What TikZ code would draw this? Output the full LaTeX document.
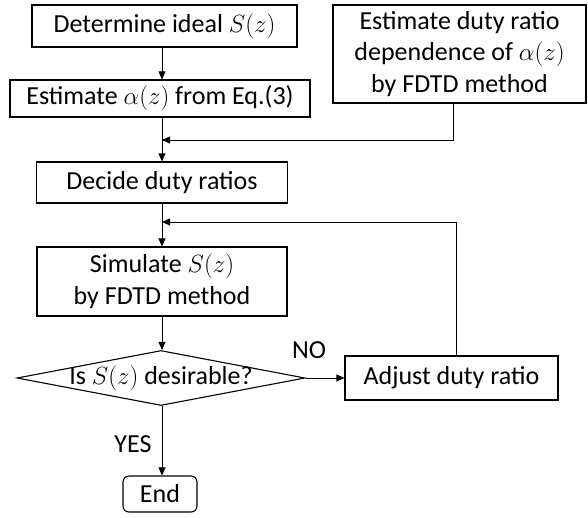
\documentclass[tikz,border=0pt]{standalone}
\usepackage{fontspec}
\setmainfont{Carlito}
\usetikzlibrary{shapes.geometric,arrows.meta}
\begin{document}
\begin{tikzpicture}[x=1pt,y=-1pt,
  every node/.style={font=\fontsize{26}{31.5}\selectfont},
  box/.style={draw,line width=1.1pt,rectangle,inner sep=0pt,align=center},
  decision/.style={draw,line width=1.1pt,diamond,aspect=5.2,inner sep=0pt},
  conn/.style={line width=0.8pt},
  arr/.style={conn,-{Triangle[length=8pt,width=7pt]}},
  lbl/.style={inner sep=0pt}]
\useasboundingbox (0,0) rectangle (588,517);
\node[box,minimum width=265pt,minimum height=42pt] (b1) at (164.5,26) {Determine ideal $S(z)$};
\node[box,minimum width=300pt,minimum height=37pt] (b2) at (160,98.5) {Estimate $\alpha(z)$ from Eq.(3)};
\node[box,minimum width=253pt,minimum height=98pt] (br) at (459.5,54) {Estimate duty ratio\\ dependence of $\alpha(z)$\\ by FDTD method};
\node[box,minimum width=251pt,minimum height=41pt] (b3) at (162,182.5) {Decide duty ratios};
\node[box,minimum width=250pt,minimum height=69pt] (b4) at (162,281.5) {Simulate $S(z)$\\ by FDTD method};
\node[decision,minimum width=288pt,minimum height=55pt] (d) at (161,378) {};
\node[lbl] (dt) at (161,378) {Is $S(z)$ desirable?};
\node[box,minimum width=213pt,minimum height=44pt] (adj) at (451.5,378) {Adjust duty ratio};
\node[box,rounded corners=6pt,minimum width=74pt,minimum height=36pt] (end) at (160,494) {End};
\node[lbl] (no) at (309,350) {NO};
\node[lbl] (yes) at (133,444) {YES};
\coordinate (m1) at (162,140);
\coordinate (m2) at (162,222);
\draw[arr] (b1.south -| m1) -- (m1 |- b2.north);
\draw[conn] (m1 |- b2.south) -- (m1);
\draw[arr] (br.south -| 453,0) |- (m1);
\draw[arr] (m1) -- (m1 |- b3.north);
\draw[conn] (m2 |- b3.south) -- (m2);
\draw[arr] (adj.north -| 456,0) |- (m2);
\draw[arr] (m2) -- (m2 |- b4.north);
\draw[arr] (m2 |- b4.south) -- (m2 |- d.north);
\draw[arr] (d.east) -- (adj.west);
\draw[arr] (m2 |- d.south) -- (m2 |- end.north);
\end{tikzpicture}
\end{document}
